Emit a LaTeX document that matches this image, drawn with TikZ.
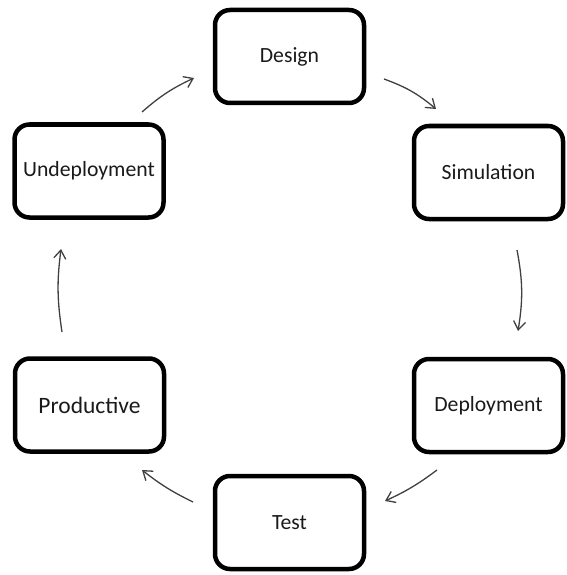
\documentclass[tikz,border=0pt]{standalone}
\usepackage{fontspec}
\setmainfont{Carlito}
\usetikzlibrary{arrows.meta}
\definecolor{boxtext}{HTML}{1A1A1A}
\definecolor{flow}{HTML}{404040}
\begin{document}
\begin{tikzpicture}[x=1pt,y=-1pt,
  stage/.style={draw=black, line width=4.5pt, rounded corners=15pt, fill=white,
    minimum width=149pt, minimum height=93pt, inner sep=0pt,
    text=boxtext, font=\fontsize{21.7}{24}\selectfont},
  flowarrow/.style={draw=flow, line width=1.3pt,
    -{Straight Barb[length=8.5pt,width=12pt,line width=1.3pt]}}]
  \useasboundingbox (0,0) rectangle (566,575);

  % the six life-cycle stages
  \node[stage] (design)  at (289.5,56.5)  {Design};
  \node[stage] (sim)     at (488.5,172.5) {Simulation};
  \node[stage] (deploy)  at (488.5,405.5) {Deployment};
  \node[stage] (test)    at (289.5,522.5) {Test};
  \node[stage, font=\fontsize{23.5}{26}\selectfont] (prod) at (89.5,405) {Productive};
  \node[stage] (undeploy) at (89,171)     {Undeployment};

  % free ends of the cycle arrows
  \coordinate (a1s) at (384,79);  \coordinate (a1e) at (436,109);
  \coordinate (a2s) at (517,250); \coordinate (a2e) at (518,331);
  \coordinate (a3s) at (437,470); \coordinate (a3e) at (385,501);
  \coordinate (a4s) at (193,502); \coordinate (a4e) at (142,470);
  \coordinate (a5s) at (62,332);  \coordinate (a5e) at (61,249);
  \coordinate (a6s) at (142,112); \coordinate (a6e) at (194,78);

  \draw[flowarrow] (a1s) to[bend left=10] (a1e);
  \draw[flowarrow] (a2s) to[bend left=10] (a2e);
  \draw[flowarrow] (a3s) to[bend left=6] (a3e);
  \draw[flowarrow] (a4s) to[bend left=6] (a4e);
  \draw[flowarrow] (a5s) to[bend left=8] (a5e);
  \draw[flowarrow] (a6s) to[bend left=8] (a6e);
\end{tikzpicture}
\end{document}
